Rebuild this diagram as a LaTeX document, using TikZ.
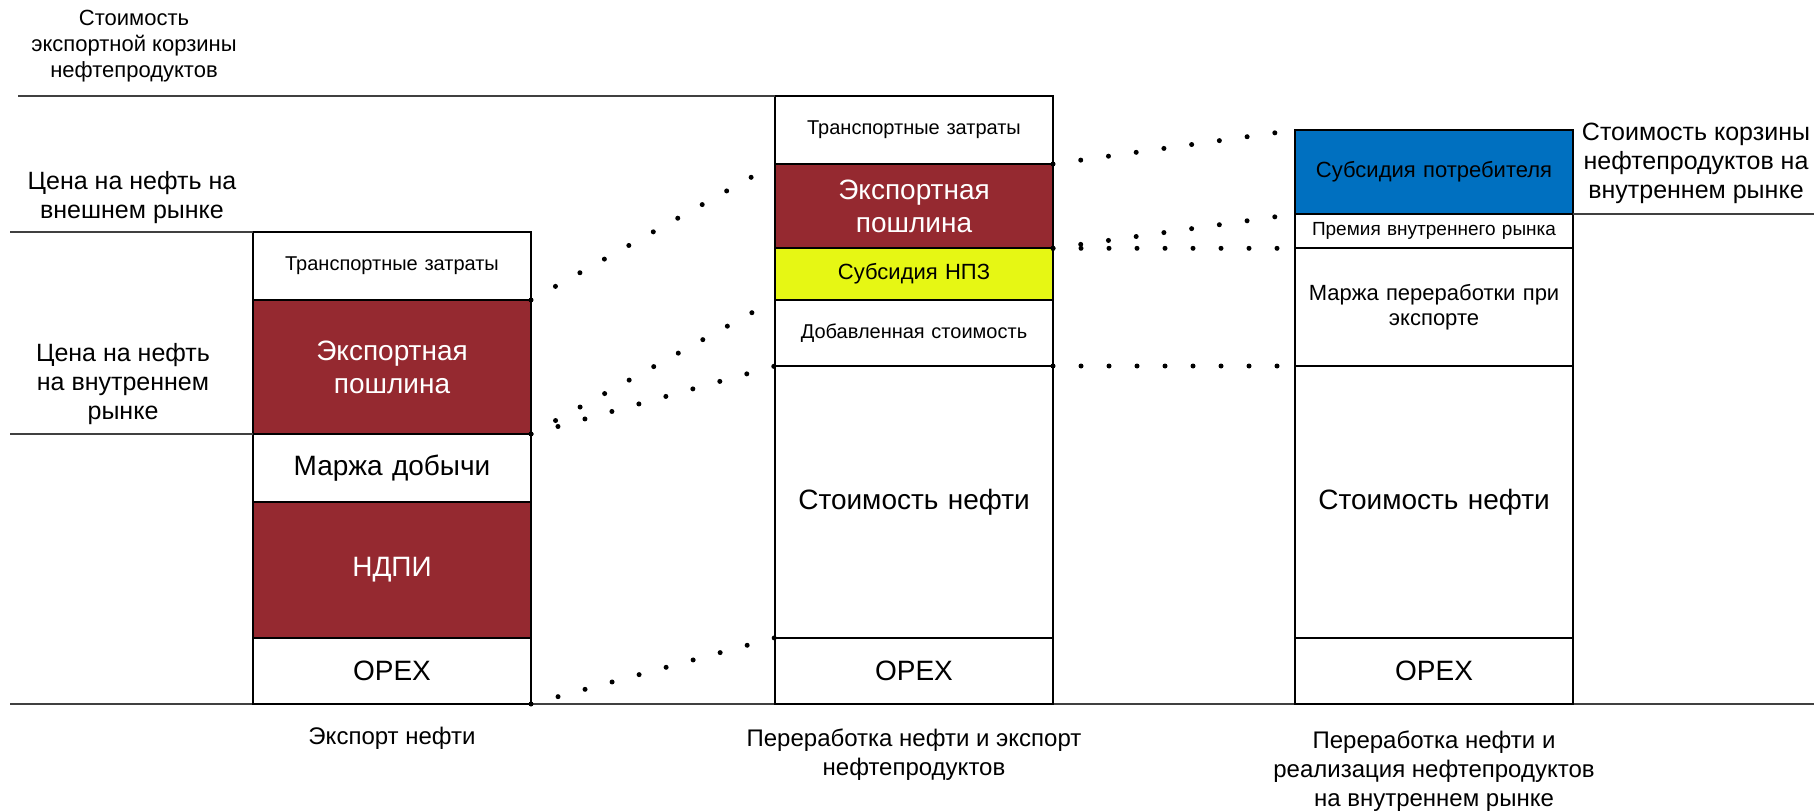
\documentclass[tikz,border=0pt]{standalone}
\usepackage{fontspec}
\setmainfont{Liberation Sans}
\usetikzlibrary{positioning}

\definecolor{dutyred}{RGB}{149,41,48}
\definecolor{npzyellow}{RGB}{230,247,20}
\definecolor{consblue}{RGB}{0,112,192}

\begin{document}
\begin{tikzpicture}[x=1pt,y=-1pt,
    cell/.style={draw=black,line width=2pt,minimum width=278pt,outer sep=0pt,
                 inner sep=2pt,text width=272pt,align=center},
    big/.style={font=\fontsize{28}{33}\selectfont},
    midtext/.style={font=\fontsize{22}{25}\selectfont},
    small/.style={font=\fontsize{20}{23}\selectfont},
    tax/.style={cell,fill=dutyred,text=white,big},
    sidelabel/.style={font=\fontsize{25}{29}\selectfont,align=center},
    collabel/.style={font=\fontsize{24}{29}\selectfont,align=center},
    refline/.style={black!75,line width=1.3pt},
    dotline/.style={line width=5pt,line cap=round,dash pattern=on 0pt off 28pt}]
   \useasboundingbox (0,0) rectangle (1814,811);

   % free ends of the level lines
   \coordinate (topleft) at (18,96);
   \coordinate (worldleft) at (10,232);
   \coordinate (homeleft) at (10,434);
   \coordinate (baseleft) at (10,704);
   \coordinate (baseright) at (1814,704);
   \coordinate (homeright) at (1814,214);
   \draw[refline] (baseleft) -- (baseright);

   % export of crude
   \node[cell,small,minimum height=68pt,anchor=north west] (c1tr) at (253,232) {Транспортные затраты};
   \node[tax,minimum height=134pt,below=0pt of c1tr] (c1duty) {Экспортная\\пошлина};
   \node[cell,big,minimum height=67.7pt,below=0pt of c1duty] (c1marg) {Маржа добычи};
   \node[tax,minimum height=136pt,below=0pt of c1marg] (c1ndpi) {НДПИ};
   \node[cell,big,minimum height=66.3pt,below=0pt of c1ndpi] (c1opex) {OPEX};

   % refining and export of products
   \node[cell,small,minimum height=68pt,anchor=north west] (c2tr) at (775,96) {Транспортные затраты};
   \node[tax,minimum height=84.3pt,below=0pt of c2tr] (c2duty) {Экспортная\\пошлина};
   \node[cell,midtext,fill=npzyellow,minimum height=51.7pt,below=0pt of c2duty] (c2sub) {Субсидия НПЗ};
   \node[cell,small,minimum height=66pt,below=0pt of c2sub] (c2add) {Добавленная стоимость};
   \node[cell,big,minimum height=271.7pt,below=0pt of c2add] (c2oil) {Стоимость нефти};
   \node[cell,big,minimum height=66.3pt,below=0pt of c2oil] (c2opex) {OPEX};

   % refining and home market
   \node[cell,midtext,fill=consblue,minimum height=84pt,anchor=north west] (c3blue) at (1295,130) {Субсидия потребителя};
   \node[cell,font=\fontsize{19}{22}\selectfont,minimum height=34.3pt,below=0pt of c3blue] (c3prem) {Премия внутреннего рынка};
   \node[cell,midtext,minimum height=117.7pt,below=0pt of c3prem] (c3marg) {Маржа переработки при\\экспорте};
   \node[cell,big,minimum height=271.7pt,below=0pt of c3marg] (c3oil) {Стоимость нефти};
   \node[cell,big,minimum height=66.3pt,below=0pt of c3oil] (c3opex) {OPEX};

   % side labels
   \node[sidelabel,font=\fontsize{22}{25.7}\selectfont] (exportbasket) at (134,46) {Стоимость\\экспортной корзины\\нефтепродуктов};
   \node[sidelabel] (worldprice) at (132,198) {Цена на нефть на\\внешнем рынке};
   \node[sidelabel] (homeprice) at (123,384) {Цена на нефть\\на внутреннем\\рынке};
   \node[sidelabel] (homebasket) at (1696,163) {Стоимость корзины\\нефтепродуктов на\\внутреннем рынке};

   % column names
   \node[collabel] (c1name) at (392,738) {Экспорт нефти};
   \node[collabel] (c2name) at (914,755) {Переработка нефти и экспорт\\нефтепродуктов};
   \node[collabel] (c3name) at (1434,771) {Переработка нефти и\\реализация нефтепродуктов\\на внутреннем рынке};

   % level lines
   \draw[refline] (topleft) -- (c2tr.north west);
   \draw[refline] (worldleft) -- (c1tr.north west);
   \draw[refline] (homeleft) -- (c1duty.south west);
   \draw[refline] (c3blue.south east) -- (homeright);

   % dotted links
   \draw[dotline] (c1tr.south east) -- (c2tr.south west);
   \draw[dotline] (c1duty.south east) -- (c2sub.south west);
   \draw[dotline] (c1duty.south east) -- (c2add.south west);
   \draw[dotline] (c1opex.south east) -- (c2opex.north west);
   \draw[dotline] (c2tr.south east) -- (c3blue.north west);
   \draw[dotline] (c2duty.south east) -- (c3blue.south west);
   \draw[dotline] (c2duty.south east) -- (c3prem.south west);
   \draw[dotline] (c2add.south east) -- (c3marg.south west);
\end{tikzpicture}
\end{document}
